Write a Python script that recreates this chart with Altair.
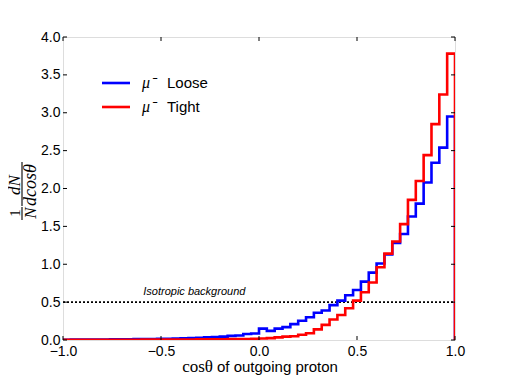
import altair as alt
import pandas as pd

# bin edges (left edges) of 50 bins from -1 to 1, width 0.04
bin_width = 0.04
n_bins = 50

loose_vals = [
    0.004, 0.005, 0.005, 0.006, 0.006, 0.007, 0.008, 0.009, 0.010, 0.011,
    0.012, 0.013, 0.015, 0.017, 0.019, 0.021, 0.025, 0.030, 0.035, 0.040,
    0.045, 0.055, 0.060, 0.080, 0.085,
    0.15, 0.12, 0.15, 0.17, 0.21, 0.255, 0.30, 0.36, 0.39, 0.46,
    0.52, 0.59, 0.66, 0.77, 0.89, 1.01, 1.13, 1.28, 1.40, 1.63,
    1.80, 2.08, 2.34, 2.54, 2.95,
]
tight_vals = [
    0.002, 0.002, 0.002, 0.003, 0.003, 0.003, 0.003, 0.004, 0.004, 0.004,
    0.005, 0.005, 0.005, 0.006, 0.006, 0.007, 0.007, 0.008, 0.008, 0.009,
    0.010, 0.011, 0.012, 0.014, 0.016,
    0.02, 0.025, 0.035, 0.045, 0.05, 0.07, 0.09, 0.14, 0.20, 0.27,
    0.33, 0.42, 0.52, 0.63, 0.76, 0.96, 1.14, 1.30, 1.53, 1.85,
    2.10, 2.44, 2.85, 3.24, 3.78,
]
series_names = ["Loose", "Tight"]
series_colors = ["#0000ff", "#ff0000"]
x_ticks = [-1.0, -0.5, 0.0, 0.5, 1.0]
y_ticks = [0.0, 0.5, 1.0, 1.5, 2.0, 2.5, 3.0, 3.5, 4.0]
iso_level = 0.5

W, H = 392, 303


def step_df(vals, name):
    xs = [round(-1 + bin_width * i, 4) for i in range(n_bins)] + [1.0]
    ys = list(vals) + [0.0]
    return pd.DataFrame({"x": xs, "y": ys, "series": name, "order": list(range(len(xs)))})


xscale = alt.Scale(domain=[-1, 1], nice=False, zero=False)
yscale = alt.Scale(domain=[0, 4], nice=False)

xaxis = alt.Axis(values=x_ticks, format=".1f", ticks=False, domain=False, grid=False,
                 labelFont="Liberation Sans", labelFontSize=14, labelColor="black",
                 labelPadding=4, title=None, labelFlush=False, labelOverlap=False)
yaxis = alt.Axis(values=y_ticks, format=".1f", ticks=False, domain=False, grid=False,
                 labelFont="Liberation Sans", labelFontSize=14, labelColor="black",
                 labelPadding=3, title=None, labelOverlap=False, labelFlush=False)


def X(field):
    return alt.X(field, scale=xscale, axis=xaxis)


def Y(field):
    return alt.Y(field, scale=yscale, axis=yaxis)


layers = []
for vals, name, col in zip([loose_vals, tight_vals], series_names, series_colors):
    df = step_df(vals, name)
    layers.append(
        alt.Chart(df).mark_line(interpolate="step-after", color=col, strokeWidth=2.6, clip=True)
        .encode(x=X("x:Q"), y=Y("y:Q"), order="order:Q")
    )

iso = alt.Chart(pd.DataFrame({"x": [-1.0], "x2": [1.0], "y": [iso_level]})).mark_rule(
    color="black", strokeDash=[2, 2], strokeWidth=1.6
).encode(x=X("x:Q"), x2="x2:Q", y=Y("y:Q"))

iso_text = alt.Chart(pd.DataFrame({"x": [-0.33], "y": [0.635], "t": ["Isotropic background"]})).mark_text(
    font="Liberation Sans", fontSize=11, fontStyle="italic", color="black", align="center", baseline="middle"
).encode(x=X("x:Q"), y=Y("y:Q"), text="t:N")

# inward ticks
tx = pd.DataFrame({"v": x_ticks})
ty = pd.DataFrame({"v": y_ticks})
tick_bottom = alt.Chart(tx).mark_rule(color="black", strokeWidth=1).encode(
    x=X("v:Q"), y=alt.value(H), y2=alt.value(H - 4))
tick_top = alt.Chart(tx).mark_rule(color="black", strokeWidth=1).encode(
    x=X("v:Q"), y=alt.value(0), y2=alt.value(4))
tick_left = alt.Chart(ty).mark_rule(color="black", strokeWidth=1).encode(
    y=Y("v:Q"), x=alt.value(0), x2=alt.value(4))
tick_right = alt.Chart(ty).mark_rule(color="black", strokeWidth=1).encode(
    y=Y("v:Q"), x=alt.value(W - 4), x2=alt.value(W))

# legend
leg_layers = []
for i, (name, col) in enumerate(zip(series_names, series_colors)):
    yy = 46 + 24 * i
    leg_layers.append(alt.Chart(pd.DataFrame({"s": [name]})).mark_rule(color=col, strokeWidth=2.6).encode(
        x=alt.value(39), x2=alt.value(67), y=alt.value(yy)))
    leg_layers.append(alt.Chart(pd.DataFrame({"t": ["μ⁻"]})).mark_text(
        font="Liberation Serif", fontSize=16, fontStyle="italic", align="left", baseline="middle", color="black"
    ).encode(x=alt.value(79), y=alt.value(yy), text="t:N"))
    leg_layers.append(alt.Chart(pd.DataFrame({"t": [name]})).mark_text(
        font="Liberation Sans", fontSize=15, align="left", baseline="middle", color="black"
    ).encode(x=alt.value(104), y=alt.value(yy), text="t:N"))

# x-axis title
xt1 = alt.Chart(pd.DataFrame({"t": ["cosθ"]})).mark_text(
    font="Liberation Serif", fontSize=17, align="right", baseline="middle", color="black"
).encode(x=alt.value(150), y=alt.value(330), text="t:N")
xt2 = alt.Chart(pd.DataFrame({"t": ["of outgoing proton"]})).mark_text(
    font="Liberation Sans", fontSize=15, align="left", baseline="middle", color="black"
).encode(x=alt.value(154), y=alt.value(330), text="t:N")

# y-axis title as fraction 1/N dN/dcosθ
def ytxt(t, x, y, size=18, style="italic"):
    return alt.Chart(pd.DataFrame({"t": [t]})).mark_text(
        font="Liberation Serif", fontSize=size, fontStyle=style, angle=270,
        align="center", baseline="alphabetic", color="black"
    ).encode(x=alt.value(x), y=alt.value(y), text="t:N")

yt = [
    ytxt("1", -43, 176, 15, "normal"),
    ytxt("N", -27, 176, 17),
    ytxt("dN", -43, 148, 17),
    ytxt("dcosθ", -27, 148, 18),
    alt.Chart(pd.DataFrame({"a": [0]})).mark_rule(color="black", strokeWidth=1.1).encode(
        x=alt.value(-41), y=alt.value(170), y2=alt.value(183)),
    alt.Chart(pd.DataFrame({"a": [0]})).mark_rule(color="black", strokeWidth=1.1).encode(
        x=alt.value(-41), y=alt.value(125), y2=alt.value(169)),
]

chart = alt.layer(
    iso, iso_text, *layers, tick_bottom, tick_top, tick_left, tick_right, *leg_layers, xt1, xt2, *yt
).properties(
    width=W, height=H,
    autosize=alt.AutoSizeParams(type="none"),
    padding={"left": 55, "top": 29, "right": 40, "bottom": 40},
).configure_view(stroke="#222222", strokeWidth=1.2).configure(background="white")

chart.save("out.html", embed_options={"renderer": "svg", "actions": False})
